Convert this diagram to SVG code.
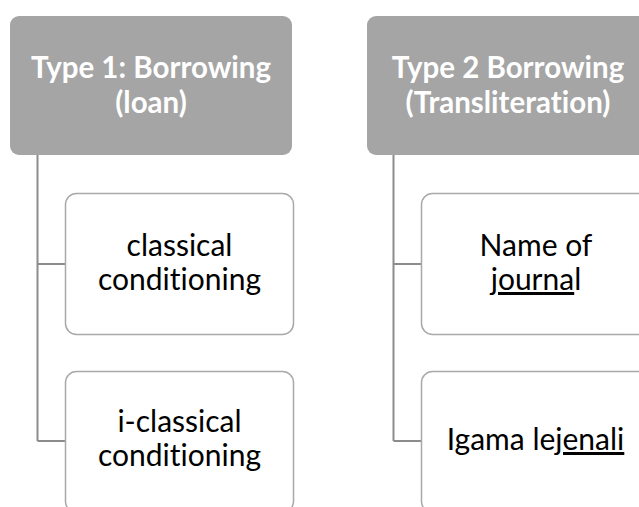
<svg xmlns="http://www.w3.org/2000/svg" width="639" height="507" viewBox="0 0 639 507">
<style>
.hdr{fill:#a5a5a5;}
.child{fill:#ffffff;stroke:#a9a9a9;stroke-width:1.5;}
.conn{fill:none;stroke:#8c8c8c;stroke-width:2;}
text{font-variant-ligatures:none;}
.ht{font-family:Lato,"Liberation Sans",sans-serif;font-weight:bold;font-size:29.5px;fill:#ffffff;text-anchor:middle;}
.ct{font-family:Lato,"Liberation Sans",sans-serif;font-size:30px;fill:#000000;text-anchor:middle;}
</style>
<rect width="639" height="507" fill="#ffffff"/>
<g id="connectors">
<path class="conn" d="M37.5,155 V441 M37.5,264 H65 M37.5,441 H65"/>
<path class="conn" d="M393.5,155 V441 M393.5,264 H421 M393.5,441 H421"/>
</g>
<g id="type1">
<rect class="hdr" x="10" y="16" width="282" height="139" rx="9"/>
<text class="ht" x="151" y="78">Type 1: Borrowing</text>
<text class="ht" x="151" y="113">(loan)</text>
</g>
<g id="type2">
<rect class="hdr" x="367" y="16" width="282" height="139" rx="9"/>
<text class="ht" x="508" y="78">Type 2 Borrowing</text>
<text class="ht" x="508" y="113">(Transliteration)</text>
</g>
<g id="classical">
<rect class="child" x="65.5" y="193.5" width="228" height="141" rx="11"/>
<text class="ct" x="179.5" y="256">classical</text>
<text class="ct" x="179.5" y="290">conditioning</text>
</g>
<g id="iclassical">
<rect class="child" x="65.5" y="371.5" width="228" height="141" rx="11"/>
<text class="ct" x="179.5" y="432">i-classical</text>
<text class="ct" x="179.5" y="466">conditioning</text>
</g>
<g id="journal">
<rect class="child" x="421.5" y="193.5" width="228" height="141" rx="11"/>
<text class="ct" x="536" y="256">Name of</text>
<text class="ct" x="536" y="290"><tspan text-decoration="underline">journa</tspan>l</text>
</g>
<g id="jenali">
<rect class="child" x="421.5" y="371.5" width="228" height="141" rx="11"/>
<text class="ct" x="535.5" y="450">Igama le<tspan text-decoration="underline">jenali</tspan></text>
</g>
</svg>
